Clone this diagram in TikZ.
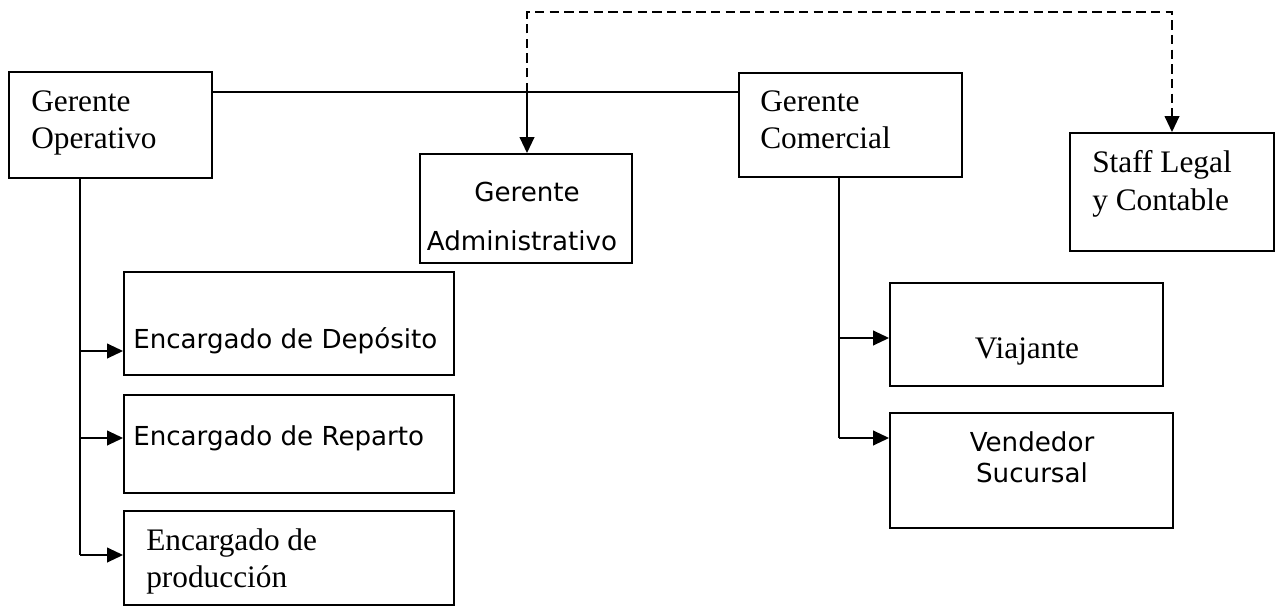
\documentclass[tikz,border=0pt]{standalone}
\usepackage{fontspec}
\setmainfont{Liberation Serif}
\newfontfamily\orgsans{DejaVu Sans}
\usetikzlibrary{arrows.meta,fit}
\begin{document}
\begin{tikzpicture}[x=0.75pt,y=-0.75pt,
  box/.style={draw, line width=1.4pt, inner sep=0pt},
  serif/.style={inner sep=0pt, anchor=base west, font=\fontsize{23.5}{28}\selectfont},
  serifc/.style={serif, anchor=base},
  sans/.style={inner sep=0pt, anchor=base west, font=\orgsans\fontsize{19.6}{24}\selectfont},
  sansc/.style={sans, anchor=base},
  conn/.style={line width=1.4pt},
  arr/.style={conn, -{Triangle[length=12pt,width=11pt]}},
  staffline/.style={arr, dash pattern=on 7pt off 4pt}]
\useasboundingbox (0,0) rectangle (1275,606);
\clip (0,0) rectangle (1275,606);

% boxes
\node[box, fit={(9,72) (212,178)}] (go) {};
\node[box, fit={(739,73) (962,177)}] (gc) {};
\node[box, fit={(420,154) (632,263)}] (adm) {};
\node[box, fit={(1070,133) (1274,251)}] (staff) {};
\node[box, fit={(124,272) (454,375)}] (dep) {};
\node[box, fit={(124,395) (454,493)}] (rep) {};
\node[box, fit={(124,511) (454,605)}] (prod) {};
\node[box, fit={(890,283) (1163,386)}] (via) {};
\node[box, fit={(890,413) (1173,528)}] (ven) {};

% labels
\node[serif] (go1) at (31,112) {Gerente};
\node[serif] (go2) at (31,149) {Operativo};
\node[serif] (gc1) at (760,112) {Gerente};
\node[serif] (gc2) at (760,149) {Comercial};
\node[serif] (st1) at (1092,173) {Staff Legal};
\node[serif] (st2) at (1092,210) {y Contable};
\node[sansc] (ad1) at (527,202) {Gerente};
\node[sansc] (ad2) at (522,250) {Administrativo};
\node[sans] (de1) at (133,348) {Encargado de Depósito};
\node[sans] (re1) at (133,445) {Encargado de Reparto};
\node[serif] (pr1) at (146,550) {Encargado de};
\node[serif] (pr2) at (146,587) {producción};
\node[serifc] (vi1) at (1027,358) {Viajante};
\node[sansc] (ve1) at (1032,451) {Vendedor};
\node[sansc] (ve2) at (1032,482) {Sucursal};

% connector anchors
\coordinate (bus) at (527,92);
\coordinate (top) at (527,12);
\coordinate (opv) at (80,178);
\coordinate (d1) at (80,351);
\coordinate (d2) at (80,438);
\coordinate (d3) at (80,555);
\coordinate (cmv) at (839,177);
\coordinate (c1) at (839,338);
\coordinate (c2) at (839,438);

% line between the two managers, with the branch to administration
\draw[conn] (go.east |- bus) -- (gc.west |- bus);
\draw[arr] (bus) -- (bus |- adm.north);
\draw[staffline] (bus) -- (top) -| (staff.north);

% operations branch
\draw[conn] (opv) -- (d3);
\draw[arr] (d1) -- (d1 -| dep.west);
\draw[arr] (d2) -- (d2 -| rep.west);
\draw[arr] (d3) -- (d3 -| prod.west);

% commercial branch
\draw[conn] (cmv) -- (c2);
\draw[arr] (c1) -- (c1 -| via.west);
\draw[arr] (c2) -- (c2 -| ven.west);
\end{tikzpicture}
\end{document}
